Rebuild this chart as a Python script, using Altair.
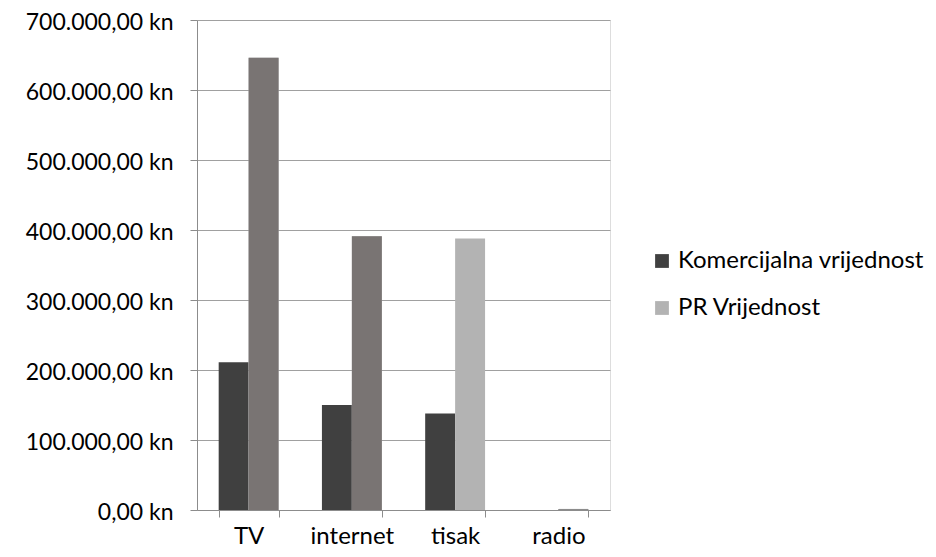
import altair as alt
import pandas as pd

categories = ["TV", "internet", "tisak", "radio"]
series_names = ["Komercijalna vrijednost", "PR Vrijednost"]
komercijalna = [211000, 150000, 138000, 0]
pr_vrijednost = [646000, 391000, 388000, 1500]
# PR bars for TV and internet are drawn in a darker grey in the original
pr_override = ["#797473", "#797473", None, "#8c8c8c"]
series_colors = ["#404040", "#b3b3b3"]

rows = []
for i, c in enumerate(categories):
    rows.append({"cat": c, "series": series_names[0], "value": komercijalna[i], "override": None})
    rows.append({"cat": c, "series": series_names[1], "value": pr_vrijednost[i], "override": pr_override[i]})
df = pd.DataFrame(rows)

FONT = "Lato"
x = alt.X("cat:N", sort=categories, title=None,
          scale=alt.Scale(paddingInner=0.42, paddingOuter=0.21),
          axis=alt.Axis(labelAngle=0, labelFontSize=24, labelFont=FONT, labelColor="#000000",
                        domainColor="#8c8c8c", tickColor="#8c8c8c", tickSize=7,
                        tickBand="extent", labelBaseline="alphabetic", labelPadding=26,
                        grid=False))
y = alt.Y("value:Q", title=None,
          scale=alt.Scale(domain=[0, 700000]),
          axis=alt.Axis(values=list(range(0, 700001, 100000)), format="$,.2f",
                        labelFontSize=23, labelFont=FONT, labelColor="#000000",
                        domainColor="#8c8c8c", tickColor="#8c8c8c", tickSize=7,
                        gridColor="#a0a0a0", labelPadding=17, labelOffset=2))
xo = alt.XOffset("series:N", sort=series_names)

base = alt.Chart(df).mark_bar().encode(
    x=x, y=y, xOffset=xo,
    color=alt.Color("series:N", sort=series_names,
                    scale=alt.Scale(domain=series_names, range=series_colors),
                    legend=alt.Legend(title=None, orient="none", legendX=453, legendY=229,
                                      symbolType="square", symbolSize=190, symbolStrokeWidth=0,
                                      labelFont=FONT, labelFontSize=24, labelColor="#000000",
                                      labelLimit=0, rowPadding=23, labelOffset=4)),
)

over = alt.Chart(df).transform_filter("datum.override != null").mark_bar().encode(
    x=x, y=y, xOffset=xo,
    color=alt.Color("override:N", scale=None, legend=None),
)

chart = alt.layer(base, over).resolve_scale(color="independent").properties(
    width=413, height=490,
    autosize=alt.AutoSizeParams(type="none"),
    padding={"left": 189, "top": 12, "right": 318, "bottom": 39},
).configure_view(stroke=None).configure(
    locale={"number": {"decimal": ",", "thousands": ".", "grouping": [3], "currency": ["", " kn"]}}
)

chart.save("out.html", embed_options={"renderer": "svg", "actions": False})
